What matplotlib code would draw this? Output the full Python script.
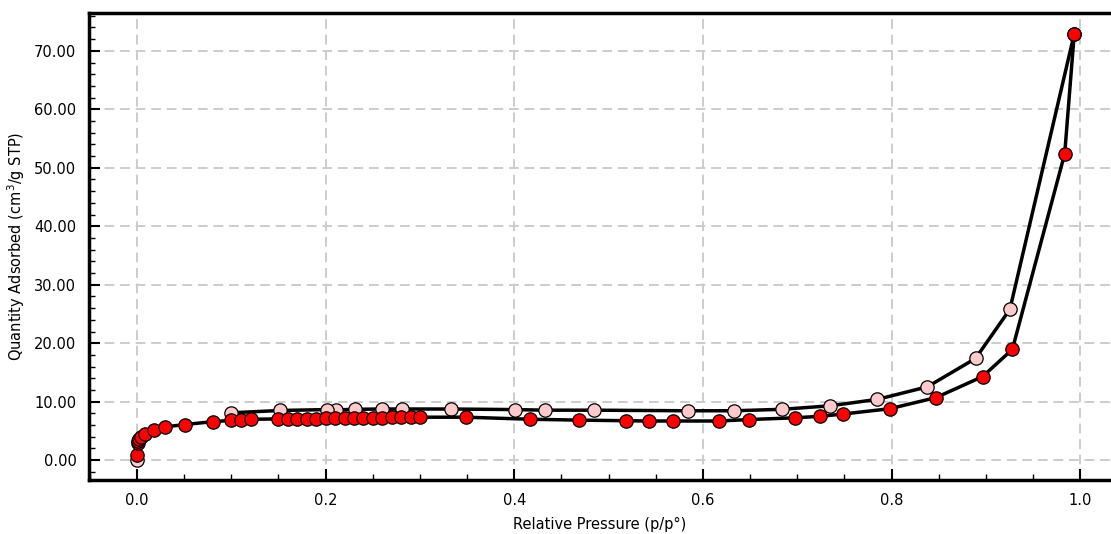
import matplotlib
matplotlib.use("Agg")
import matplotlib.pyplot as plt
from matplotlib.ticker import MultipleLocator, FormatStrFormatter

# adsorption branch (red)
ads_p = [0.0002, 0.0008, 0.0012, 0.002, 0.004, 0.0085, 0.018, 0.030, 0.051,
         0.081, 0.100, 0.110, 0.121,
         0.15, 0.16, 0.17, 0.18, 0.19, 0.20, 0.21, 0.22, 0.23, 0.24, 0.25,
         0.26, 0.27, 0.28, 0.29, 0.30,
         0.349, 0.417, 0.469, 0.518, 0.543, 0.568, 0.617, 0.649, 0.698,
         0.724, 0.749, 0.798, 0.847, 0.8965, 0.928, 0.9835, 0.9936]
ads_q = [0.9, 3.0, 3.3, 3.6, 3.9, 4.4, 5.1, 5.7, 6.1,
         6.6, 6.8, 6.85, 7.0,
         7.05, 7.05, 7.1, 7.1, 7.1, 7.15, 7.15, 7.2, 7.2, 7.2, 7.25,
         7.25, 7.3, 7.3, 7.3, 7.35,
         7.35, 7.0, 6.85, 6.75, 6.7, 6.7, 6.7, 6.95, 7.25,
         7.5, 7.9, 8.8, 10.7, 14.3, 18.95, 52.4, 72.9]

# desorption branch (pink)
des_p = [0.9936, 0.9254, 0.889, 0.838, 0.785, 0.735, 0.684, 0.633, 0.584,
         0.484, 0.433, 0.401, 0.333, 0.281, 0.260, 0.231, 0.211, 0.201,
         0.1515, 0.100]
des_q = [72.9, 25.8, 17.4, 12.55, 10.4, 9.3, 8.7, 8.45, 8.45,
         8.55, 8.55, 8.65, 8.75, 8.75, 8.75, 8.7, 8.6, 8.65,
         8.5, 8.1]

# lone starting point at zero
start_p = [0.0]
start_q = [0.0]

fig = plt.figure(figsize=(11.11, 5.34), dpi=100)
ax = fig.add_axes([0.080, 0.101, 0.9195, 0.875])

mk = dict(marker="o", markersize=9.6, markeredgecolor="black",
          markeredgewidth=0.9)
ax.plot(start_p, start_q, linestyle="none", markerfacecolor="#FFCACA", **mk)
ax.plot(des_p, des_q, color="black", linewidth=2.5,
        markerfacecolor="#FFCACA", zorder=3, **mk)
ax.plot(ads_p, ads_q, color="black", linewidth=2.5,
        markerfacecolor="#FF0000", zorder=4, **mk)

ax.set_xlim(-0.051, 1.032)
ax.set_ylim(-3.4, 76.5)

ax.xaxis.set_major_locator(MultipleLocator(0.2))
ax.xaxis.set_minor_locator(MultipleLocator(0.05))
ax.yaxis.set_major_locator(MultipleLocator(10))
ax.yaxis.set_minor_locator(MultipleLocator(2))
ax.xaxis.set_major_formatter(FormatStrFormatter("%.1f"))
ax.yaxis.set_major_formatter(FormatStrFormatter("%.2f"))

ax.tick_params(which="both", direction="in", top=False, right=False,
               colors="black")
ax.tick_params(which="major", length=8, width=1.5, labelsize=10.5)
ax.tick_params(which="minor", length=4, width=1.0)
ax.tick_params(axis="y", pad=9)
ax.tick_params(axis="x", pad=9)

ax.grid(True, which="major", color="#cccccc", linestyle=(0, (5, 3)),
        linewidth=1.4)
ax.set_axisbelow(True)

for side in ["left", "bottom", "top"]:
    ax.spines[side].set_linewidth(2.5)
ax.spines["right"].set_visible(False)

ax.set_xlabel("Relative Pressure (p/p°)", fontsize=10.5, labelpad=7)
ax.set_ylabel("Quantity Adsorbed (cm$^3$/g STP)", fontsize=10.5, labelpad=5)

fig.savefig("out.png", dpi=100)
